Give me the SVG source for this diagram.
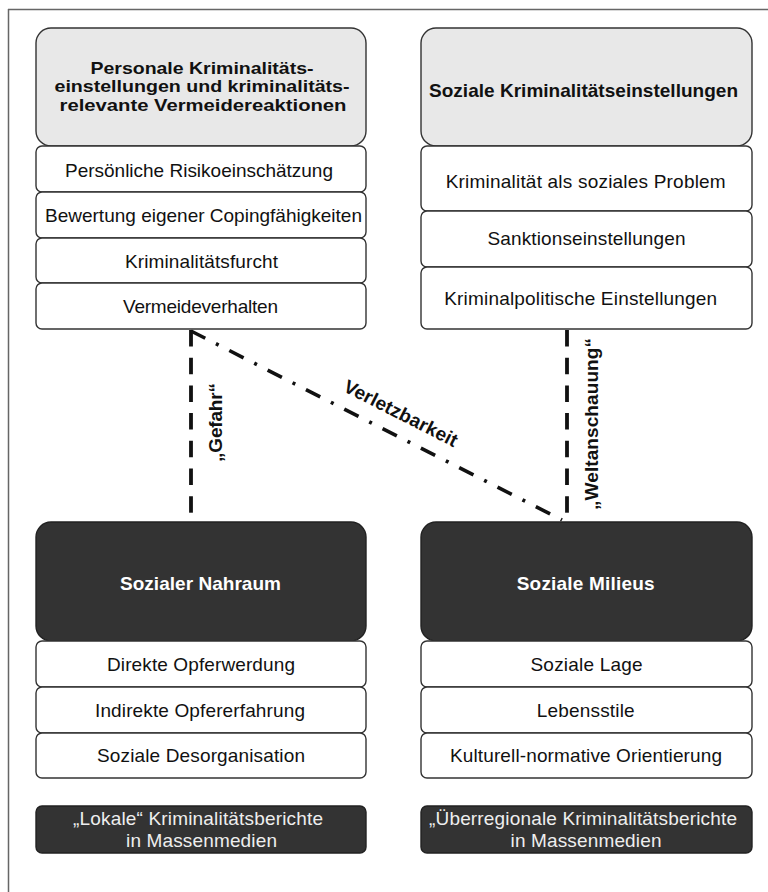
<svg xmlns="http://www.w3.org/2000/svg" width="768" height="892" viewBox="0 0 768 892">
<style>
.hdr{fill:#e8e8e8;stroke:#333;stroke-width:1.4}
.dark{fill:#333;stroke:#222;stroke-width:1.4}
.row{fill:#fff;stroke:#333;stroke-width:1.4}
text{font-family:"Liberation Sans",Arial,sans-serif;font-size:19px;text-anchor:middle}
.b{font-weight:bold;fill:#111}
.h3{font-size:16.5px}
.r{fill:#111}
.w{font-weight:bold;fill:#fff}
.m{fill:#eee}
.dash{stroke:#111;stroke-width:3.8;fill:none;stroke-dasharray:16.5 11.2}
.dd{stroke:#111;stroke-width:3.6;fill:none;stroke-dasharray:16 12 3 12}
</style>
<rect width="768" height="892" fill="#fff"/>
<g id="frame">
<line x1="8" y1="9.5" x2="768" y2="9.5" stroke="#666" stroke-width="1.5"/>
<line x1="8.5" y1="9" x2="8.5" y2="892" stroke="#666" stroke-width="1.5"/>
</g>
<g id="connectors">
<line class="dash" x1="191" y1="330" x2="191" y2="515"/>
<line class="dash" x1="567" y1="330" x2="567" y2="515"/>
<line class="dd" x1="191" y1="331" x2="562" y2="520"/>
<text class="b" transform="translate(222 422.5) rotate(-90)" textLength="79">„Gefahr“</text>
<text class="b" transform="translate(598 424) rotate(-90)" textLength="172">„Weltanschauung“</text>
<text class="b" transform="translate(398 419) rotate(27)" textLength="125">Verletzbarkeit</text>
</g>
<g id="personale">
<rect class="hdr" x="36" y="28" width="330" height="118" rx="15"/>
<text class="b h3" x="202" y="74" textLength="223" lengthAdjust="spacingAndGlyphs">Personale Kriminalitäts-</text>
<text class="b h3" x="202" y="92" textLength="295" lengthAdjust="spacingAndGlyphs">einstellungen und kriminalitäts-</text>
<text class="b h3" x="203" y="110.5" textLength="287" lengthAdjust="spacingAndGlyphs">relevante Vermeidereaktionen</text>
</g>
<g id="risiko"><rect class="row" x="36" y="146" width="330" height="46" rx="6"/><text class="r" x="199" y="177" textLength="268">Persönliche Risikoeinschätzung</text></g>
<g id="coping"><rect class="row" x="36" y="192" width="330" height="46" rx="6"/><text class="r" x="203.5" y="222" textLength="317">Bewertung eigener Copingfähigkeiten</text></g>
<g id="furcht"><rect class="row" x="36" y="238" width="330" height="45" rx="6"/><text class="r" x="201.5" y="267.5" textLength="153">Kriminalitätsfurcht</text></g>
<g id="vermeide"><rect class="row" x="36" y="283" width="330" height="46" rx="6"/><text class="r" x="200.5" y="313" textLength="155">Vermeideverhalten</text></g>

<g id="soziale"><rect class="hdr" x="421" y="28" width="331" height="118" rx="15"/><text class="b" x="583.5" y="97" textLength="309">Soziale Kriminalitätseinstellungen</text></g>
<g id="problem"><rect class="row" x="421" y="146" width="331" height="65" rx="6"/><text class="r" x="585.7" y="188" textLength="280">Kriminalität als soziales Problem</text></g>
<g id="sanktion"><rect class="row" x="421" y="211" width="331" height="56" rx="6"/><text class="r" x="586.5" y="245" textLength="198">Sanktionseinstellungen</text></g>
<g id="kpolitik"><rect class="row" x="421" y="267" width="331" height="62" rx="6"/><text class="r" x="580.7" y="305" textLength="273">Kriminalpolitische Einstellungen</text></g>

<g id="nahraum"><rect class="dark" x="36" y="522" width="330" height="119" rx="15"/><text class="w" x="200.5" y="590" textLength="161">Sozialer Nahraum</text></g>
<g id="direkt"><rect class="row" x="36" y="641" width="330" height="46" rx="6"/><text class="r" x="201" y="671" textLength="188">Direkte Opferwerdung</text></g>
<g id="indirekt"><rect class="row" x="36" y="687" width="330" height="46" rx="6"/><text class="r" x="200" y="717" textLength="210">Indirekte Opfererfahrung</text></g>
<g id="desorg"><rect class="row" x="36" y="733" width="330" height="45" rx="6"/><text class="r" x="201" y="762" textLength="208">Soziale Desorganisation</text></g>
<g id="lokal"><rect class="dark" x="36" y="806" width="330" height="47" rx="6"/><text class="m" x="198" y="825" textLength="250">„Lokale“ Kriminalitätsberichte</text><text class="m" x="201.5" y="847" textLength="151">in Massenmedien</text></g>

<g id="milieus"><rect class="dark" x="421" y="522" width="331" height="119" rx="15"/><text class="w" x="585.7" y="590" textLength="138">Soziale Milieus</text></g>
<g id="lage"><rect class="row" x="421" y="641" width="331" height="46" rx="6"/><text class="r" x="586.5" y="671" textLength="112">Soziale Lage</text></g>
<g id="stile"><rect class="row" x="421" y="687" width="331" height="46" rx="6"/><text class="r" x="585.7" y="717" textLength="98">Lebensstile</text></g>
<g id="kultur"><rect class="row" x="421" y="733" width="331" height="45" rx="6"/><text class="r" x="586" y="762" textLength="272">Kulturell-normative Orientierung</text></g>
<g id="ueberreg"><rect class="dark" x="421" y="806" width="331" height="47" rx="6"/><text class="m" x="583" y="825" textLength="308">„Überregionale Kriminalitätsberichte</text><text class="m" x="586" y="847" textLength="151">in Massenmedien</text></g>
</svg>
